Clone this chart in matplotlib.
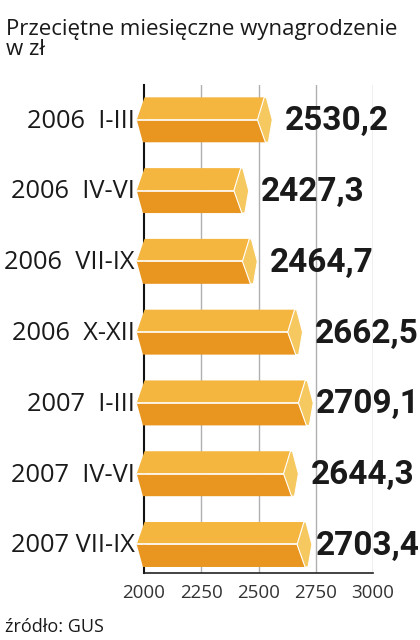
import matplotlib.pyplot as plt
from matplotlib.patches import Polygon

# dane: przecietne miesieczne wynagrodzenie (GUS)
kwartaly = ['2006  I-III', '2006  IV-VI', '2006  VII-IX', '2006  X-XII',
            '2007  I-III', '2007  IV-VI', '2007 VII-IX']
wartosci = [2530.2, 2427.3, 2464.7, 2662.5, 2709.1, 2644.3, 2703.4]
podpisy = ['2530,2', '2427,3', '2464,7', '2662,5', '2709,1', '2644,3', '2703,4']
osie_x = [2000, 2250, 2500, 2750, 3000]

kolor_gora = '#f4b63f'
kolor_dol = '#e8961f'
kolor_czolo = '#f6c860'

fig = plt.figure(figsize=(4.2, 6.4), dpi=100)
ax = fig.add_axes([0.343, 0.105, 0.545, 0.762])

x0 = osie_x[0]
h = 0.635
for i, v in enumerate(wartosci):
    gora = i - h / 2
    dol = i + h / 2
    T = v + 30
    # gorna i dolna sciana graniastoslupa
    ax.add_patch(Polygon([(x0 - 32, i), (x0 + 2, gora), (T - 35, gora), (T - 65, i)],
                         closed=True, fc=kolor_gora, ec='none', zorder=3, clip_on=False))
    ax.add_patch(Polygon([(x0 - 32, i), (x0 - 5, dol), (T - 30, dol), (T - 65, i)],
                         closed=True, fc=kolor_dol, ec='none', zorder=3, clip_on=False))
    # czolo
    ax.add_patch(Polygon([(T - 35, gora), (T - 26, gora), (T, i), (T - 17, dol), (T - 30, dol), (T - 65, i)],
                         closed=True, fc=kolor_czolo, ec='white', lw=0.8, zorder=4, clip_on=False))
    ax.plot([x0 - 32, T - 65], [i, i], color='white', lw=1.2, zorder=4, clip_on=False,
            solid_capstyle='butt')
    ax.text(min(v + 85, 2750), i + 0.02, podpisy[i], ha='left', va='center',
            fontsize=24, fontweight='bold', family='Roboto', color='#1a1a1a', zorder=5)
    ax.text(1958, i + 0.02, kwartaly[i], ha='right', va='center',
            fontsize=18.3, family='Open Sans', color='#1a1a1a')

ax.set_xlim(2000, 3000)
ax.set_ylim(6.4, -0.49)
ax.set_xticks(osie_x)
ax.set_xticklabels([str(t) for t in osie_x], fontsize=13.5, family='Open Sans', color='#333333')
ax.tick_params(axis='x', length=0, pad=8)
ax.set_yticks([])
for t in osie_x[1:]:
    ax.axvline(t, color='#b0b0b0', lw=1, zorder=1)

for s in ['top', 'right']:
    ax.spines[s].set_visible(False)
ax.spines['left'].set_color('#111111')
ax.spines['left'].set_linewidth(1.5)
ax.spines['left'].set_zorder(2)
ax.spines['bottom'].set_color('#222222')
ax.spines['bottom'].set_linewidth(1.2)

fig.text(0.015, 0.97, 'Przeciętne miesięczne wynagrodzenie\nw zł', ha='left', va='top',
         fontsize=16, family='Open Sans', color='#1a1a1a', linespacing=0.9)
fig.text(0.012, 0.006, 'źródło: GUS', ha='left', va='bottom',
         fontsize=13, family='Open Sans', color='#1a1a1a')

plt.savefig('out.png', dpi=100)
